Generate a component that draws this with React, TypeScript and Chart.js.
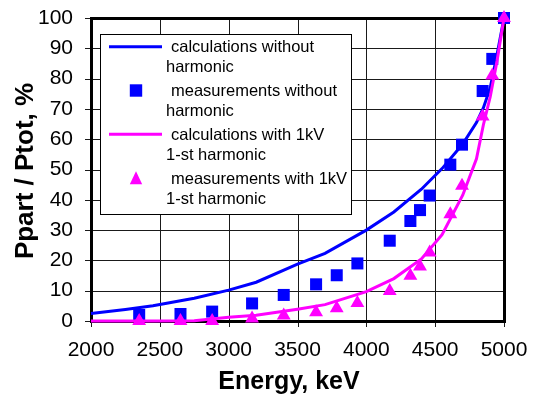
import React, { useEffect, useRef } from "react";
import { Chart, registerables } from "chart.js";

Chart.register(...registerables);

// ---- data ----
const xTickValues = [2000, 2500, 3000, 3500, 4000, 4500, 5000];
const yTickValues = [0, 10, 20, 30, 40, 50, 60, 70, 80, 90, 100];

const calcEnergy = [2000, 2250, 2450, 2750, 3000, 3200, 3500, 3700, 4000, 4200, 4400, 4550, 4700, 4800, 4850, 4900, 4950, 5000];
const calcNoHarmonic = [2.5, 3.8, 5.0, 7.5, 10.2, 12.8, 18.8, 22.3, 30.0, 36.0, 43.5, 50.3, 58.4, 65.5, 70.3, 77, 88, 100];
const calcHarmonic = [0, 0, 0, 0.1, 1.2, 1.9, 3.9, 5.4, 9.7, 14.0, 20.5, 28.5, 41.5, 53.5, 64.7, 74, 86, 100];

const measEnergy = [2350, 2650, 2880, 3170, 3400, 3635, 3785, 3935, 4170, 4320, 4390, 4460, 4610, 4695, 4845, 4915, 5000];
const measNoHarmonic = [2.0, 2.3, 3.1, 5.8, 8.6, 12.1, 15.1, 19.0, 26.5, 33.0, 36.6, 41.4, 51.6, 58.2, 75.9, 86.5, 100];
const measHarmonic = [0, 0, 0, 0.8, 1.8, 2.9, 4.2, 5.9, 9.9, 14.9, 18.0, 22.6, 35.2, 44.6, 67.5, 81.0, 100];

const legendLabels = [
  ["calculations without", "harmonic"],
  ["measurements without", "harmonic"],
  ["calculations with 1kV", "1-st harmonic"],
  ["measurements with 1kV", "1-st harmonic"],
];

const xTitle = "Energy, keV";
const yTitle = "Ppart / Ptot, %";

const BLUE = "#0000FF";
const MAGENTA = "#FF00FF";
const FONT = '"Liberation Sans", Arial, sans-serif';

const pts = (xs: number[], ys: number[]) => xs.map((x, i) => ({ x, y: ys[i] }));

function drawGridAndFrame(chart: any) {
  const { ctx, chartArea: a, scales } = chart;
  ctx.save();
  ctx.globalAlpha = 1;
  ctx.globalCompositeOperation = "source-over";
  const left = Math.round(a.left);
  const right = Math.round(a.right);
  const top = Math.round(a.top);
  const bottom = Math.round(a.bottom);
  // vertical grid lines + x tick marks (solid pixel columns)
  ctx.fillStyle = "#1a1a1a";
  for (const v of xTickValues) {
    const px = Math.round(scales.x.getPixelForValue(v));
    ctx.fillRect(px, top, 1, bottom - top + 6);
  }
  // horizontal grid lines + y tick marks (solid pixel rows)
  ctx.fillStyle = "#1a1a1a";
  for (const v of yTickValues) {
    const py = Math.round(scales.y.getPixelForValue(v));
    ctx.fillRect(left - 6, py, right - left + 6, 1);
  }
  // frame
  ctx.fillStyle = "#000000";
  ctx.fillRect(left - 1, top - 1, right - left + 3, 3);
  ctx.fillRect(left - 1, bottom - 1, right - left + 3, 3);
  ctx.fillRect(left - 1, top - 1, 3, bottom - top + 3);
  ctx.fillRect(right - 1, top - 1, 3, bottom - top + 3);
  ctx.restore();
}

const decorPlugin = {
  id: "decor",
  beforeDatasetsDraw(chart: any) {
    drawGridAndFrame(chart);
  },
  afterDatasetsDraw(chart: any) {
    const { ctx } = chart;
    ctx.save();
    // legend box
    const bx = 100.5, by = 34.5, bw = 251, bh = 180;
    ctx.fillStyle = "#fff";
    ctx.fillRect(bx, by, bw, bh);
    ctx.strokeStyle = "#000";
    ctx.lineWidth = 1;
    ctx.strokeRect(bx, by, bw, bh);
    const rows = [46.7, 90.5, 134.3, 178.3];
    const kinds = ["line", "rect", "line", "triangle"];
    const colors = [BLUE, BLUE, MAGENTA, MAGENTA];
    ctx.font = `16.5px ${FONT}`;
    ctx.textBaseline = "middle";
    ctx.textAlign = "left";
    rows.forEach((ry, i) => {
      const c = colors[i];
      if (kinds[i] === "line") {
        ctx.strokeStyle = c;
        ctx.lineWidth = 3;
        ctx.beginPath();
        ctx.moveTo(109, ry);
        ctx.lineTo(162, ry);
        ctx.stroke();
      } else if (kinds[i] === "rect") {
        ctx.fillStyle = c;
        ctx.fillRect(136 - 6.2, ry - 6.2, 12.4, 12.4);
      } else {
        ctx.fillStyle = c;
        ctx.beginPath();
        ctx.moveTo(136, ry - 7);
        ctx.lineTo(142.2, ry + 6);
        ctx.lineTo(129.8, ry + 6);
        ctx.closePath();
        ctx.fill();
      }
      ctx.fillStyle = "#000";
      ctx.fillText(legendLabels[i][0], 171, ry + 1);
      ctx.fillText(legendLabels[i][1], 166, ry + 21);
    });
    ctx.restore();
  },
  afterDraw(chart: any) {
    const { ctx, chartArea: a } = chart;
    ctx.save();
    ctx.fillStyle = "#000";
    ctx.font = `bold 25px ${FONT}`;
    ctx.textAlign = "center";
    ctx.textBaseline = "alphabetic";
    ctx.fillText(xTitle, 289, 389);
    ctx.translate(33, (a.top + a.bottom) / 2 + 1.5);
    ctx.rotate(-Math.PI / 2);
    ctx.font = `bold 26px ${FONT}`;
    ctx.fillText(yTitle, 0, 0);
    ctx.restore();
  },
};

export default function App() {
  const ref = useRef<HTMLCanvasElement | null>(null);
  useEffect(() => {
    if (!ref.current) return;
    const chart = new Chart(ref.current, {
      type: "scatter",
      data: {
        datasets: [
          {
            label: legendLabels[0].join(" "),
            data: pts(calcEnergy, calcNoHarmonic),
            showLine: true,
            borderColor: BLUE,
            borderWidth: 3,
            pointRadius: 0,
            tension: 0,
            clip: false as any,
            order: 4,
          },
          {
            label: legendLabels[1].join(" "),
            data: pts(measEnergy, measNoHarmonic),
            pointStyle: "rect",
            pointRadius: 8.5,
            backgroundColor: BLUE,
            borderWidth: 0,
            clip: false as any,
            order: 3,
          },
          {
            label: legendLabels[2].join(" "),
            data: pts(calcEnergy, calcHarmonic),
            showLine: true,
            borderColor: MAGENTA,
            borderWidth: 3,
            pointRadius: 0,
            tension: 0,
            clip: false as any,
            order: 2,
          },
          {
            label: legendLabels[3].join(" "),
            data: pts(measEnergy, measHarmonic),
            pointStyle: "triangle",
            pointRadius: 8,
            backgroundColor: MAGENTA,
            borderWidth: 0,
            clip: false as any,
            order: 1,
          },
        ],
      },
      options: {
        animation: false,
        responsive: false,
        layout: { padding: { left: 0, right: 34, top: 18, bottom: 0 } },
        plugins: { legend: { display: false }, tooltip: { enabled: false } },
        scales: {
          x: {
            type: "linear",
            min: 2000,
            max: 5000,
            afterBuildTicks: (s: any) => {
              s.ticks = xTickValues.map((v) => ({ value: v }));
            },
            afterFit: (s: any) => {
              s.height = 75;
            },
            grid: { display: false, drawTicks: true, tickLength: 17 },
            border: { display: false },
            ticks: {
              color: "#000",
              padding: 0,
              maxRotation: 0,
              font: { family: FONT, size: 21 },
              callback: (v: any) => String(v),
            },
          },
          y: {
            type: "linear",
            min: 0,
            max: 100,
            afterBuildTicks: (s: any) => {
              s.ticks = yTickValues.map((v) => ({ value: v }));
            },
            afterFit: (s: any) => {
              s.width = 91;
            },
            grid: { display: false, drawTicks: true, tickLength: 18 },
            border: { display: false },
            ticks: {
              color: "#000",
              padding: 0,
              font: { family: FONT, size: 21 },
              callback: (v: any) => String(v),
            },
          },
        },
      },
      plugins: [decorPlugin],
    });
    return () => chart.destroy();
  }, []);
  return (
    <div style={{ position: "absolute", left: 0, top: 0, width: 538, height: 396, background: "#fff" }}>
      <canvas ref={ref} width={538} height={396} style={{ display: "block" }} />
    </div>
  );
}
